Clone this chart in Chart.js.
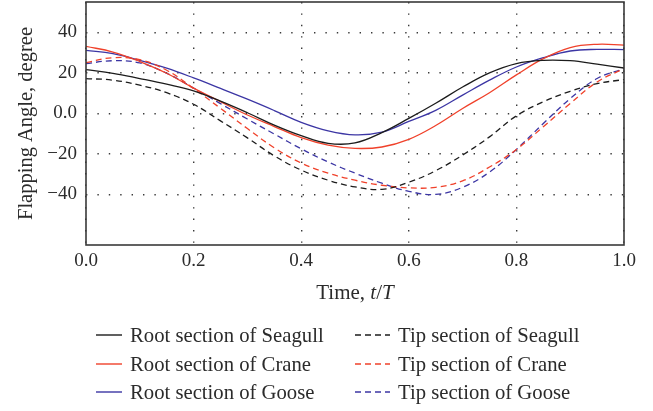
<!DOCTYPE html>
<html><head><meta charset="utf-8">
<script src="https://cdn.jsdelivr.net/npm/chart.js@4.4.1/dist/chart.umd.min.js"></script>
<style>
html,body{margin:0;padding:0;background:#fff;}
#wrap{position:relative;width:653px;height:411px;overflow:hidden;font-family:"Liberation Serif","Times New Roman",serif;color:#2b2b2b;}
#c{position:absolute;left:0;top:0;}
#xtitle{position:absolute;left:86px;width:538px;top:280px;text-align:center;font-size:21px;line-height:24px;}
.item{position:absolute;height:28px;display:flex;align-items:center;font-size:20.7px;white-space:nowrap;line-height:28px;}
.item svg{display:block;margin-right:8px;}
</style></head><body>
<div id="wrap"><canvas id="c" width="653" height="411"></canvas><div id="xtitle">Time, <i>t</i>/<i>T</i></div><div id="legend"></div></div>
<script>
// ---- data ----
const tValues = [0, 0.05, 0.1, 0.15, 0.2, 0.25, 0.3, 0.35, 0.4, 0.45, 0.5, 0.55, 0.6, 0.65, 0.7, 0.75, 0.8, 0.85, 0.9, 0.95, 1.0];
const rootSeagull = [21.6, 19.8, 17.2, 14.4, 11.1, 6.0, 0.3, -5.8, -11.0, -14.8, -14.6, -9.5, -2.5, 5.0, 13.0, 20.0, 24.6, 26.2, 26.0, 24.3, 22.4];
const tipSeagull  = [17.2, 16.4, 13.9, 10.2, 4.5, -3.7, -12.1, -21.0, -28.0, -33.0, -36.3, -37.5, -34.0, -28.3, -20.6, -11.6, -1.2, 5.7, 10.9, 14.7, 16.7];
const rootCrane   = [33.1, 30.3, 25.6, 19.8, 12.5, 5.8, -0.8, -6.5, -12.0, -15.7, -17.3, -16.6, -12.8, -6.0, 2.4, 10.2, 19.0, 27.0, 32.5, 34.1, 33.7];
const tipCrane    = [25.1, 27.5, 26.5, 21.3, 12.3, 2.5, -7.5, -17.0, -24.5, -29.5, -33.0, -35.5, -36.8, -36.5, -33.3, -26.5, -17.8, -6.6, 4.9, 15.5, 22.1];
const rootGoose   = [31.1, 29.5, 26.2, 22.3, 17.5, 12.3, 7.0, 1.4, -4.4, -8.6, -10.6, -9.3, -4.0, 1.5, 9.0, 16.4, 22.9, 27.5, 30.8, 31.6, 31.5];
const tipGoose    = [24.6, 26.0, 24.9, 19.8, 12.5, 4.8, -2.8, -10.2, -17.5, -24.0, -29.5, -34.5, -38.5, -40.0, -36.5, -29.0, -17.8, -5.0, 7.3, 17.2, 22.1];
const seriesNames = ['Root section of Seagull', 'Tip section of Seagull', 'Root section of Crane', 'Tip section of Crane', 'Root section of Goose', 'Tip section of Goose'];
const xTickValues = [0, 0.2, 0.4, 0.6, 0.8, 1.0];
const xTickLabels = ['0.0', '0.2', '0.4', '0.6', '0.8', '1.0'];
const yTickValues = [-40, -20, 0, 20, 40];
const yTickLabels = ['\u221240', '\u221220', '0.0', '20', '40'];

// ---- styling ----
const BLACK = '#1c1c1c', RED = '#f0412a', BLUE = '#3c36a4';
const FONT = '"Liberation Serif", "Times New Roman", serif';
const TXT = '#2b2b2b';
const seriesData = [rootSeagull, tipSeagull, rootCrane, tipCrane, rootGoose, tipGoose];
const seriesColors = [BLACK, BLACK, RED, RED, BLUE, BLUE];
const seriesDash = [[], [6, 4], [], [6, 4], [], [6, 4]];

const datasets = seriesData.map((arr, i) => ({
  label: seriesNames[i],
  data: arr.map((v, j) => ({x: tValues[j], y: v})),
  borderColor: seriesColors[i],
  backgroundColor: seriesColors[i],
  borderDash: seriesDash[i],
  borderWidth: 1.3,
  pointRadius: 0,
  fill: false,
  tension: 0.4
}));

const framePlugin = {
  id: 'frame',
  afterDatasetsDraw(chart) {
    const {ctx, chartArea: a} = chart;
    ctx.save();
    ctx.strokeStyle = '#3a3a3a';
    ctx.lineWidth = 1.6;
    ctx.setLineDash([]);
    ctx.strokeRect(a.left, a.top, a.right - a.left, a.bottom - a.top);
    ctx.restore();
  }
};

const chart = new Chart(document.getElementById('c'), {
  type: 'line',
  data: {datasets},
  options: {
    responsive: false,
    animation: false,
    devicePixelRatio: 1,
    layout: {padding: {left: 0, right: 29, top: 2, bottom: 0}},
    plugins: {legend: {display: false}, tooltip: {enabled: false}},
    scales: {
      x: {
        type: 'linear', min: 0, max: 1,
        afterFit(s) { s.height = 166; s.paddingLeft = 0; s.paddingRight = 0; },
        afterBuildTicks(s) { s.ticks = xTickValues.map(v => ({value: v})); },
        ticks: {callback: (v, i) => xTickLabels[i], font: {family: FONT, size: 19}, color: TXT, padding: 5, maxRotation: 0, autoSkip: false},
        grid: {drawTicks: false, color: '#3a3a3a', lineWidth: 1.4},
        border: {display: false, dash: [1.4, 10]}
      },
      y: {
        min: -65, max: 55,
        afterFit(s) { s.width = 86; s.paddingTop = 0; s.paddingBottom = 0; },
        afterBuildTicks(s) { s.ticks = yTickValues.map(v => ({value: v})); },
        ticks: {callback: (v, i) => yTickLabels[i], font: {family: FONT, size: 19}, color: TXT, padding: 9, autoSkip: false},
        grid: {drawTicks: false, color: '#3a3a3a', lineWidth: 1.4},
        border: {display: false, dash: [1.4, 10]},
        title: {display: true, text: 'Flapping Angle, degree', font: {family: FONT, size: 20.5}, color: TXT, padding: {top: 14, bottom: 0}}
      }
    }
  },
  plugins: [framePlugin]
});

// ---- HTML legend built from the chart's datasets ----
const legend = document.getElementById('legend');
chart.data.datasets.forEach((ds, i) => {
  const col = i % 2, row = Math.floor(i / 2);
  const w = col === 0 ? 26 : 35;
  const item = document.createElement('div');
  item.className = 'item';
  item.style.left = (col === 0 ? 96 : 355) + 'px';
  item.style.top = (321 + row * 28.5) + 'px';
  const dash = ds.borderDash.length ? ds.borderDash.join(',') : 'none';
  item.innerHTML = '<svg width="' + w + '" height="4"><line x1="0" y1="2" x2="' + w + '" y2="2" stroke="' + ds.borderColor + '" stroke-width="1.4" stroke-dasharray="' + dash + '"/></svg>';
  const span = document.createElement('span');
  span.textContent = ds.label;
  item.appendChild(span);
  legend.appendChild(item);
});
</script>
</body></html>
